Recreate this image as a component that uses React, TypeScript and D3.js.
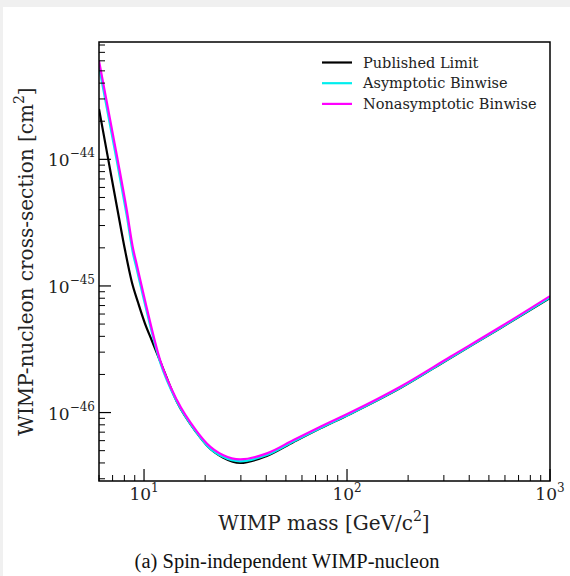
import React from "react";
import * as d3 from "d3";

const W = 570;
const H = 576;

// Published limit (black)
const publishedMass = [6.0, 6.67, 7.4, 8.06, 8.7, 9.37, 10.1, 10.9, 12, 14.5, 18.2, 20.4, 24.6, 29.8, 40.3, 54.5, 73.9, 103.8, 183, 323, 571, 1000];
const publishedSigma = [2.5e-44, 9.9e-45, 4.0e-45, 1.92e-45, 1.08e-45, 7.3e-46, 5.07e-46, 3.74e-46, 2.55e-46, 1.22e-46, 6.9e-47, 5.5e-47, 4.4e-47, 4.0e-47, 4.55e-47, 5.85e-47, 7.5e-47, 9.75e-47, 1.56e-46, 2.7e-46, 4.65e-46, 8.05e-46];

// Binwise curves share a mass grid
const binwiseMass = [6.0, 7.41, 8.22, 8.86, 9.1, 10.1, 12, 14.5, 18.2, 20.4, 24.6, 29.8, 40.3, 54.5, 73.9, 103.8, 183, 323, 571, 1000];
const asymptoticSigma = [5.4e-44, 9.0e-45, 3.6e-45, 1.75e-45, 1.47e-45, 7.2e-46, 2.5e-46, 1.22e-46, 6.9e-47, 5.5e-47, 4.45e-47, 4.12e-47, 4.62e-47, 5.9e-47, 7.55e-47, 9.8e-47, 1.57e-46, 2.71e-46, 4.67e-46, 8.1e-46];
const nonasymptoticSigma = [6.0e-44, 1.0e-44, 3.98e-45, 1.92e-45, 1.6e-45, 7.74e-46, 2.6e-46, 1.26e-46, 7.1e-47, 5.7e-47, 4.6e-47, 4.27e-47, 4.76e-47, 6.07e-47, 7.72e-47, 1.0e-46, 1.6e-46, 2.76e-46, 4.76e-46, 8.32e-46];

const seriesNames = ["Published Limit", "Asymptotic Binwise", "Nonasymptotic Binwise"];
const seriesColors = ["#000000", "#00eeee", "#ff00ff"];

const xMajorTicks = [10, 100, 1000];
const xMajorExp = ["1", "2", "3"];
const yMajorTicks = [1e-46, 1e-45, 1e-44];
const yMajorExp = ["\u221246", "\u221245", "\u221244"];

const xLabel = "WIMP mass [GeV/c";
const yLabel = "WIMP-nucleon cross-section [cm";
const caption = "(a) Spin-independent WIMP-nucleon";

const M = { left: 99, right: 550, top: 42, bottom: 481 };

export default function App() {
  const x = d3.scaleLog().domain([6.0, 1000]).range([M.left, M.right]);
  const y = d3.scaleLog().domain([2.88e-47, 8.45e-44]).range([M.bottom, M.top]);

  const line = d3
    .line<[number, number]>()
    .x((d) => x(d[0]))
    .y((d) => y(d[1]))
    .curve(d3.curveMonotoneX);

  const series = [
    { name: seriesNames[0], color: seriesColors[0], pts: publishedMass.map((m, i) => [m, publishedSigma[i]] as [number, number]) },
    { name: seriesNames[1], color: seriesColors[1], pts: binwiseMass.map((m, i) => [m, asymptoticSigma[i]] as [number, number]) },
    { name: seriesNames[2], color: seriesColors[2], pts: binwiseMass.map((m, i) => [m, nonasymptoticSigma[i]] as [number, number]) },
  ];

  const xMinor: number[] = [];
  for (let e = 0; e <= 2; e++) for (let k = 2; k <= 9; k++) {
    const v = k * Math.pow(10, e);
    if (v >= 6.0 && v <= 1000) xMinor.push(v);
  }
  const yMinor: number[] = [];
  for (let e = -47; e <= -44; e++) for (let k = 2; k <= 9; k++) {
    const v = k * Math.pow(10, e);
    if (v >= 2.88e-47 && v <= 8.45e-44) yMinor.push(v);
  }

  const serif = "'DejaVu Serif', serif";
  const clipId = "plotclip";

  return (
    <svg width={W} height={H} style={{ position: "absolute", left: 0, top: 0, background: "#ffffff" }}>
      <rect x={0} y={0} width={W} height={7} fill="#f0f0f0" />
      <rect x={0} y={0} width={3} height={H} fill="#f0f0f0" />
      <defs>
        <clipPath id={clipId}>
          <rect x={M.left} y={M.top} width={M.right - M.left} height={M.bottom - M.top} />
        </clipPath>
      </defs>

      <g clipPath={`url(#${clipId})`}>
        {series.map((s) => (
          <path key={s.name} d={line(s.pts) || ""} fill="none" stroke={s.color} strokeWidth={2.2} />
        ))}
      </g>

      <rect x={M.left} y={M.top} width={M.right - M.left} height={M.bottom - M.top} fill="none" stroke="#000" strokeWidth={1.5} />

      {xMajorTicks.map((v, i) => (
        <g key={"xm" + v}>
          <line x1={x(v)} x2={x(v)} y1={M.bottom} y2={M.bottom - 12} stroke="#000" strokeWidth={1.2} />
          <text x={x(v)} y={500} fontFamily={serif} fontSize={17} textAnchor="middle" fill="#222">
            <tspan>10</tspan>
            <tspan dy={-8} fontSize={12}>{xMajorExp[i]}</tspan>
          </text>
        </g>
      ))}
      {xMinor.map((v) => (
        <line key={"xn" + v} x1={x(v)} x2={x(v)} y1={M.bottom} y2={M.bottom - 6} stroke="#000" strokeWidth={1} />
      ))}

      {yMajorTicks.map((v, i) => (
        <g key={"ym" + i}>
          <line x1={M.left} x2={M.left + 12} y1={y(v)} y2={y(v)} stroke="#000" strokeWidth={1.2} />
          <text x={95} y={y(v) + 7} fontFamily={serif} fontSize={17} textAnchor="end" fill="#222">
            <tspan>10</tspan>
            <tspan dy={-9} fontSize={12}>{yMajorExp[i]}</tspan>
          </text>
        </g>
      ))}
      {yMinor.map((v, i) => (
        <line key={"yn" + i} x1={M.left} x2={M.left + 6} y1={y(v)} y2={y(v)} stroke="#000" strokeWidth={1} />
      ))}

      <text x={324} y={530} fontFamily={serif} fontSize={20} textAnchor="middle" fill="#222">
        <tspan>{xLabel}</tspan>
        <tspan dy={-9} fontSize={14}>2</tspan>
        <tspan dy={9}>]</tspan>
      </text>
      <text transform={`translate(33,${(M.top + M.bottom) / 2}) rotate(-90)`} fontFamily={serif} fontSize={20} textAnchor="middle" fill="#222">
        <tspan>{yLabel}</tspan>
        <tspan dy={-9} fontSize={14}>2</tspan>
        <tspan dy={9}>]</tspan>
      </text>

      {series.map((s, i) => (
        <g key={"lg" + i}>
          <line x1={322} x2={352} y1={62.5 + i * 20.7} y2={62.5 + i * 20.7} stroke={s.color} strokeWidth={2.2} />
          <text x={363} y={62.5 + i * 20.7 + 5} fontFamily={serif} fontSize={14.5} fill="#222">{s.name}</text>
        </g>
      ))}

      <text x={287} y={568} fontFamily="'Liberation Serif', 'Times New Roman', serif" fontSize={20.5} textAnchor="middle" fill="#111">
        {caption}
      </text>
    </svg>
  );
}
